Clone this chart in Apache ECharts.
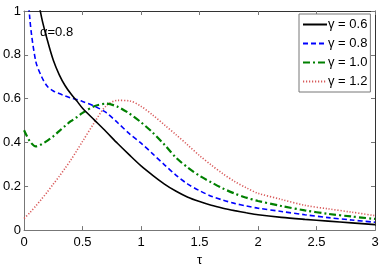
<!DOCTYPE html>
<html>
<head>
<meta charset="utf-8">
<script src="https://cdn.jsdelivr.net/npm/echarts@6/dist/echarts.min.js"></script>
<style>html,body{margin:0;padding:0;background:#fff}#c{width:382px;height:272px}</style>
</head>
<body>
<div id="c"></div>
<script>
var tau = [0, 0.05, 0.1, 0.15, 0.2, 0.25, 0.3, 0.35, 0.4, 0.45, 0.5, 0.6, 0.7, 0.8, 0.9, 1.0, 1.1, 1.2, 1.3, 1.4, 1.5, 1.6, 1.7, 1.8, 1.9, 2.0, 2.2, 2.4, 2.6, 2.8, 3.0];
var g06 = [2.2, 1.45, 1.12, 0.97, 0.865, 0.775, 0.71, 0.66, 0.622, 0.59, 0.556, 0.503, 0.45, 0.395, 0.343, 0.293, 0.25, 0.21, 0.177, 0.15, 0.13, 0.113, 0.1, 0.089, 0.079, 0.07, 0.058, 0.049, 0.041, 0.033, 0.025];
var g08 = [1.35, 0.96, 0.77, 0.70, 0.655, 0.635, 0.623, 0.613, 0.603, 0.596, 0.587, 0.566, 0.537, 0.49, 0.44, 0.397, 0.348, 0.298, 0.25, 0.21, 0.18, 0.155, 0.137, 0.122, 0.11, 0.1, 0.085, 0.07, 0.057, 0.046, 0.036];
var g10 = [0.456, 0.405, 0.382, 0.392, 0.408, 0.428, 0.452, 0.475, 0.497, 0.515, 0.535, 0.565, 0.577, 0.563, 0.532, 0.492, 0.445, 0.39, 0.33, 0.285, 0.248, 0.218, 0.19, 0.167, 0.148, 0.133, 0.11, 0.09, 0.074, 0.062, 0.051];
var g12 = [0.053, 0.08, 0.11, 0.142, 0.175, 0.21, 0.245, 0.282, 0.32, 0.362, 0.405, 0.49, 0.566, 0.592, 0.59, 0.565, 0.525, 0.48, 0.435, 0.388, 0.34, 0.297, 0.257, 0.222, 0.193, 0.168, 0.14, 0.113, 0.097, 0.082, 0.066];
var seriesNames = ['γ = 0.6', 'γ = 0.8', 'γ = 1.0', 'γ = 1.2'];
var xTicks = [0, 0.5, 1, 1.5, 2, 2.5, 3];
var yTicks = [0, 0.2, 0.4, 0.6, 0.8, 1];
var annotation = 'α=0.8';

function pairs(ys){ return tau.map(function(t,i){ return [t, ys[i]]; }); }

var FONT = 'Liberation Sans, Arial, sans-serif';
var chart = echarts.init(document.getElementById('c'), null, {renderer:'canvas'});
var styles = [
  {color:'#000000', type:'solid', width:1.6},
  {color:'#0000ff', type:[5,3], width:1.6},
  {color:'#008000', type:[7,3,2,3], width:2.2},
  {color:'#d85a5a', type:[1.2,1.8], width:1.6}
];
var allData = [g06, g08, g10, g12];
chart.setOption({
  animation:false,
  backgroundColor:'#fff',
  grid:{left:22, right:7, top:11, bottom:33, containLabel:false},
  legend:{
    orient:'vertical', left:299, top:14, padding:[4,3,4,3],
    itemWidth:24, itemHeight:12, itemGap:6,
    itemStyle:{opacity:0},
    backgroundColor:'#fff', borderColor:'#777', borderWidth:1, borderRadius:0,
    textStyle:{fontFamily:FONT, fontSize:13, color:'#000', padding:[0,0,0,-4]},
    data:seriesNames
  },
  xAxis:[{
    type:'value', min:0, max:3, interval:0.5, position:'bottom',
    name:'τ', nameLocation:'middle', nameGap:20,
    nameTextStyle:{fontFamily:FONT, fontSize:13, color:'#000'},
    axisLine:{show:true, onZero:false, lineStyle:{color:'#777', width:1}},
    axisTick:{show:true, inside:true, length:4, lineStyle:{color:'#777'}},
    axisLabel:{fontFamily:FONT, fontSize:13, color:'#000', margin:6,
      formatter:function(v){ return xTicks.indexOf(+v.toFixed(2))>=0 ? String(+v.toFixed(2)) : ''; }},
    splitLine:{show:false}
  },{
    type:'value', min:0, max:3, interval:0.5, position:'top',
    axisLine:{show:true, onZero:false, lineStyle:{color:'#333', width:1}},
    axisTick:{show:true, inside:true, length:4, lineStyle:{color:'#777'}},
    axisLabel:{show:false}, splitLine:{show:false}
  }],
  yAxis:[{
    type:'value', min:0, max:1, interval:0.2, position:'left',
    axisLine:{show:true, onZero:false, lineStyle:{color:'#777', width:1}},
    axisTick:{show:true, inside:true, length:4, lineStyle:{color:'#777'}},
    axisLabel:{fontFamily:FONT, fontSize:13, color:'#000', margin:3,
      formatter:function(v){ return String(+v.toFixed(2)); }},
    splitLine:{show:false}
  },{
    type:'value', min:0, max:1, interval:0.2, position:'right',
    axisLine:{show:true, onZero:false, lineStyle:{color:'#333', width:1}},
    axisTick:{show:true, inside:true, length:4, lineStyle:{color:'#777'}},
    axisLabel:{show:false}, splitLine:{show:false}
  }],
  graphic:[{
    type:'text', left:40, top:26,
    style:{text:annotation, font:'13px ' + FONT, fill:'#000'}
  }],
  series: allData.map(function(d,i){
    return {
      name:seriesNames[i], type:'line', data:pairs(d),
      xAxisIndex:0, yAxisIndex:0,
      showSymbol:false, symbol:'none', smooth:0.3, clip:true,
      lineStyle:styles[i], itemStyle:{color:styles[i].color},
      z: 10 - i
    };
  })
});
</script>
</body>
</html>
